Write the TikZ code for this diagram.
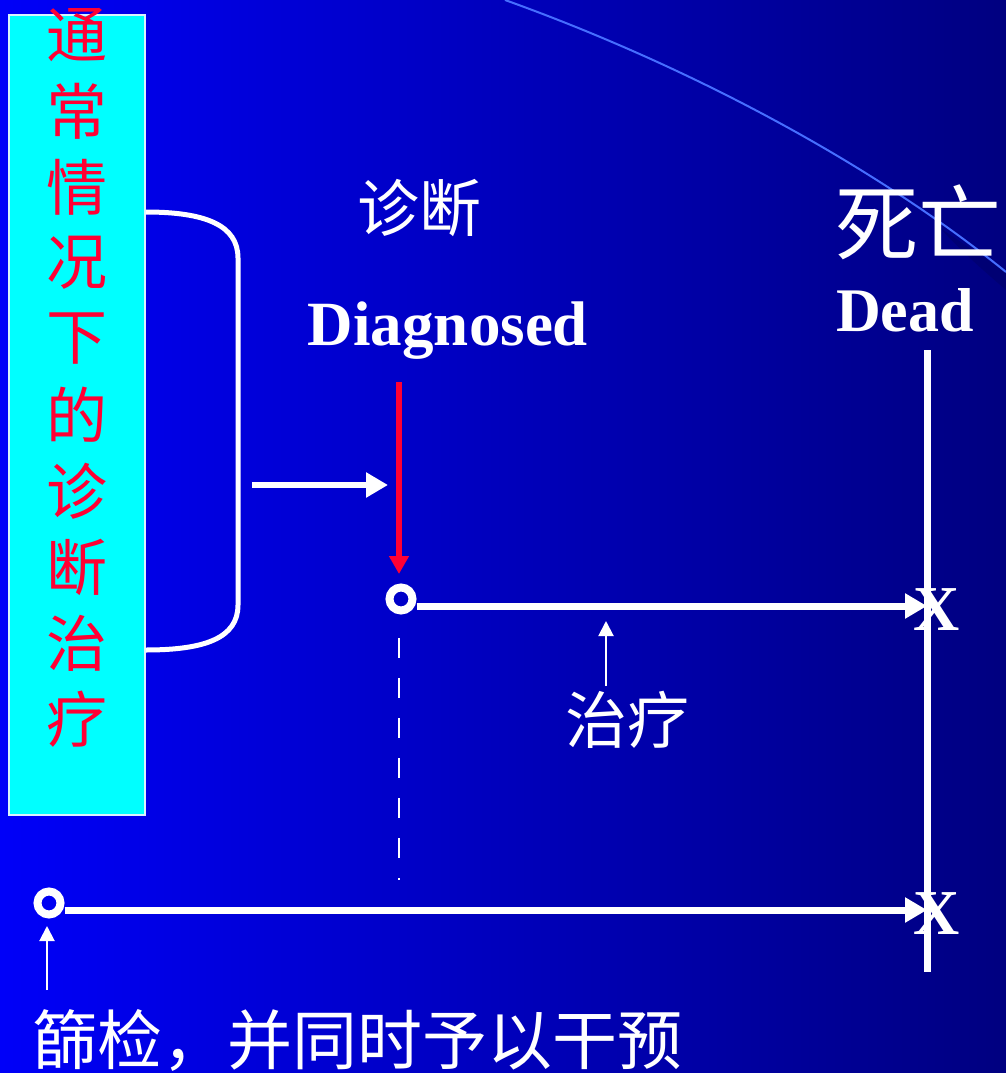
\documentclass[tikz,border=0pt]{standalone}
\usepackage{fontspec}
\setmainfont{Liberation Serif}
\newfontfamily\cjk{Noto Sans CJK SC}
\usetikzlibrary{arrows.meta}
\definecolor{bgL}{RGB}{0,0,248}
\definecolor{bgR}{RGB}{0,0,128}
\definecolor{boxcyan}{RGB}{0,255,255}
\definecolor{redtxt}{RGB}{255,0,51}
\definecolor{arcblue}{RGB}{70,110,255}
\tikzset{
  thick line/.style={draw=white,line width=7pt},
  bigarrow/.style={draw=white,line width=7pt,-{Triangle[length=22pt,width=24pt]}},
  midarrow/.style={draw=white,line width=6pt,-{Triangle[length=22pt,width=24pt]}},
  thinarrow/.style={draw=white,line width=2pt,-{Triangle[length=15pt,width=15pt]}},
  ring/.style={circle,draw=white,line width=8pt,minimum size=23pt,inner sep=0pt},
  wtext/.style={text=white,inner sep=0pt},
  cjkw/.style={wtext,font=\cjk\fontsize{#1}{#1}\selectfont},
  engb/.style={wtext,font=\bfseries\fontsize{#1}{#1}\selectfont},
  boxchar/.style={text=redtxt,inner sep=0pt,font=\cjk\fontsize{61}{61}\selectfont}
}
\begin{document}
\begin{tikzpicture}[x=1pt,y=-1pt]
\useasboundingbox (0,0) rectangle (1006,1073);
\shade[left color=bgL,right color=bgR] (0,0) rectangle (1006,1073);
% decorative arc
\fill[black!60!blue,opacity=0.5] (940,228) .. controls (970,248) and (990,262) .. (1006,272) -- (1006,290) .. controls (985,272) and (960,250) .. cycle;
\draw[arcblue,line width=2pt] (505,0) .. controls (700,70) and (880,170) .. (1006,272);
% cyan box
\node[draw=white!85!cyan,line width=1.5pt,fill=boxcyan,minimum width=136pt,minimum height=800pt,inner sep=0pt] (box) at (77,415) {};
\foreach \c [count=\i] in {通,常,情,况,下,的,诊,断,治,疗}
  \node[boxchar] (ch\i) at (77,{35+(\i-1)*76}) {\c};
% bracket
\draw[white,line width=5pt] (box.east |- 0,212) .. controls (205,212) and (238,225) .. (238,258) -- (238,605) .. controls (238,638) and (205,650) .. (box.east |- 0,650);
\coordinate (bs) at (252,485);
\coordinate (be) at (388,485);
\draw[midarrow] (bs) -- (be);
% labels
\node[cjkw=62] (zd) at (419,208) {诊断};
\node[engb=63,anchor=base] (diag) at (448,345) {Diagnosed};
\node[cjkw=83] (sw) at (918,222) {死亡};
\node[engb=62,anchor=base] (dead) at (905,331) {Dead};
% red arrow
\coordinate (rs) at (399,382);
\coordinate (re) at (399,574);
\draw[redtxt,line width=6pt,-{Triangle[length=18pt,width=19pt]}] (rs) -- (re);
% rings
\node[ring] (c1) at (401,599) {};
\node[ring] (c2) at (49,903) {};
% X marks
\node[engb=64,anchor=base] (x1) at (937,630) {X};
\node[engb=64,anchor=base] (x2) at (937,934) {X};
% dead vertical line
\coordinate (vt) at (927,350);
\coordinate (vb) at (927,972);
\draw[thick line] (vt) -- (vb);
% horizontal arrows
\coordinate (e1) at (927,606);
\coordinate (e2) at (927,910);
\draw[bigarrow] (c1.east |- 0,606) -- (e1);
\draw[bigarrow] (c2.east |- 0,910) -- (e2);
% dashed line
\coordinate (ds) at (399,638);
\coordinate (de) at (399,880);
\draw[white,line width=2pt,dash pattern=on 20pt off 20pt] (ds) -- (de);
% treatment arrow
\coordinate (ts) at (606,686);
\coordinate (te) at (606,621);
\draw[thinarrow] (ts) -- (te);
\node[cjkw=62] (zl) at (627,720) {治疗};
% screening arrow
\coordinate (ss) at (47,990);
\coordinate (se) at (47,926);
\draw[thinarrow] (ss) -- (se);
\node[cjkw=65] (sc) at (357,1040) {篩检，并同时予以干预};
\end{tikzpicture}
\end{document}
